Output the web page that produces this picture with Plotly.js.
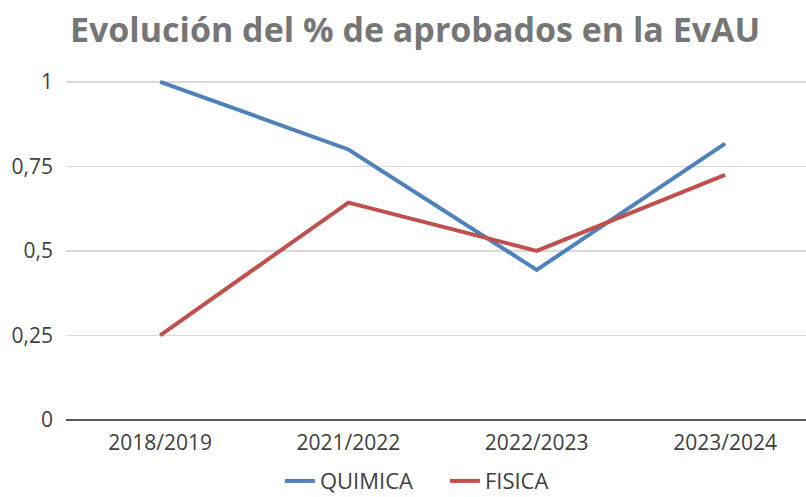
<!DOCTYPE html>
<html>
<head>
<meta charset="utf-8">
<script src="https://cdn.plot.ly/plotly-3.0.1.min.js"></script>
<style>
  html, body { margin: 0; padding: 0; background: #fff; }
  #chart { width: 806px; height: 497px; }
</style>
</head>
<body>
<div id="chart"></div>
<script>
// Chart data
const cursos = ['2018/2019', '2021/2022', '2022/2023', '2023/2024'];
const quimica = [1, 0.80, 0.444, 0.817];
const fisica = [0.25, 0.643, 0.5, 0.725];

const FONT = '"Open Sans", "Noto Sans", sans-serif';

const traces = [
    {
        x: cursos,
        y: quimica,
        name: 'QUIMICA',
        type: 'scatter',
        mode: 'lines',
        line: { color: '#4F81BD', width: 4 }
    },
    {
        x: cursos,
        y: fisica,
        name: 'FISICA',
        type: 'scatter',
        mode: 'lines',
        line: { color: '#C0504D', width: 4 }
    }
];

const layout = {
    width: 806,
    height: 497,
    separators: ',.',
    paper_bgcolor: '#ffffff',
    plot_bgcolor: '#ffffff',
    font: { family: FONT, color: '#404040', size: 21 },
    title: {
        text: '<b>Evolución del % de aprobados en la EvAU</b>',
        font: { family: FONT, size: 34, color: '#767676' },
        x: 0.515,
        xanchor: 'center',
        xref: 'container',
        y: 0.94,
        yref: 'container',
        yanchor: 'middle'
    },
    margin: { l: 66, r: 0, t: 48, b: 77, autoexpand: false },
    xaxis: {
        type: 'category',
        range: [-0.5, 3.43],
        showgrid: false,
        showline: false,
        zeroline: false,
        ticks: '',
        ticklabelstandoff: 8,
        tickfont: { size: 21, color: '#404040' },
        automargin: false,
        fixedrange: true
    },
    yaxis: {
        range: [0, 1.1],
        tickvals: [0, 0.25, 0.5, 0.75, 1],
        showgrid: true,
        gridcolor: '#d9d9d9',
        gridwidth: 1.5,
        zeroline: true,
        zerolinecolor: '#595959',
        zerolinewidth: 2,
        showline: false,
        ticks: '',
        ticklabelstandoff: 12,
        tickfont: { size: 21, color: '#404040' },
        automargin: false,
        fixedrange: true
    },
    showlegend: true,
    legend: {
        orientation: 'h',
        x: 0.552,
        xref: 'container',
        xanchor: 'center',
        y: 0.032,
        yref: 'container',
        yanchor: 'middle',
        font: { size: 22, color: '#404040' },
        itemwidth: 30,
        entrywidth: 120
    }
};

Plotly.newPlot('chart', traces, layout, { displayModeBar: false, staticPlot: true });
</script>
</body>
</html>
